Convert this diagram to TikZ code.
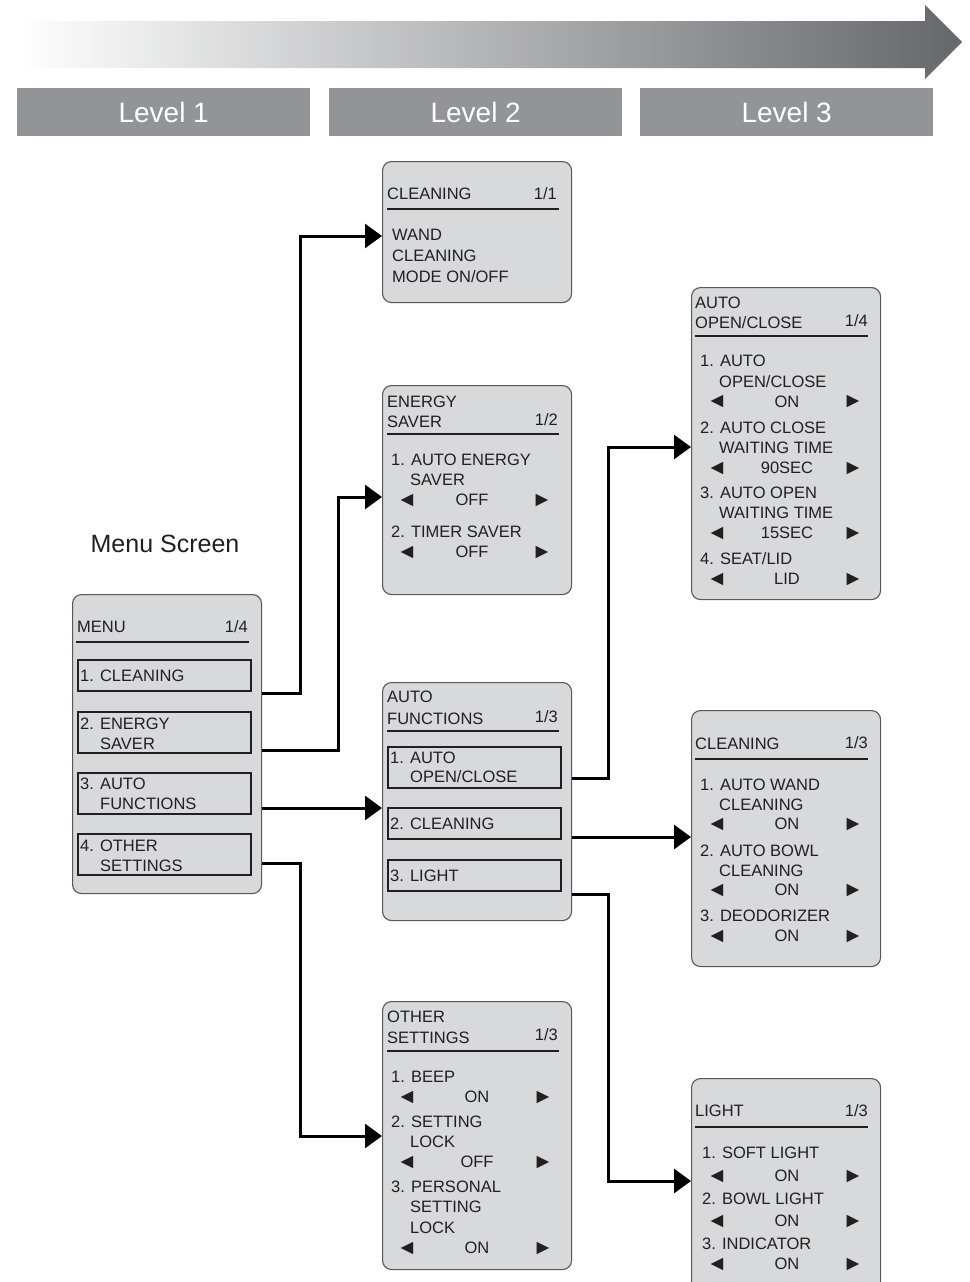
\documentclass[tikz,border=0pt]{standalone}
\usepackage{fontspec}
\setmainfont{Liberation Sans}
\usetikzlibrary{arrows.meta}
\definecolor{scr}{HTML}{D8D9DA}
\definecolor{lvl}{HTML}{939498}
\definecolor{arrdark}{HTML}{66676B}
\definecolor{ink}{HTML}{231F20}
\newcounter{tn}
% text: x, center-y, text
\newcommand\tx[3]{\stepcounter{tn}\node[tx] (t\arabic{tn}) at ({#1},{#2+6}) {#3};}
\newcommand\txr[3]{\stepcounter{tn}\node[tx,anchor=base east] (t\arabic{tn}) at ({#1},{#2+6}) {#3};}
% value row: x left sym, x value, x right sym, y, text
\newcommand\vl[5]{\stepcounter{tn}%
  \node[sym] (t\arabic{tn}l) at ({#1},{#4+1}) {◄};
  \node[tx,anchor=base] (t\arabic{tn}) at ({#2},{#4+6}) {#5};
  \node[sym] (t\arabic{tn}r) at ({#3},{#4+1}) {►};}
\newcommand\scrbox[5]{\node[screen,minimum width=#4,minimum height=#5,anchor=north west] (#1) at ({#2},{#3}) {};}
\tikzset{
  screen/.style={draw=ink!75,line width=1.1pt,fill=scr,rounded corners=9pt,inner sep=0pt},
  item/.style={draw=ink,line width=1.8pt,inner sep=0pt,anchor=north west},
  tx/.style={font=\fontsize{16.5}{18}\selectfont,text=ink,inner sep=0pt,anchor=base west},
  sym/.style={font=\fontsize{21}{22}\selectfont,text=ink,inner sep=0pt},
  rule/.style={draw=ink,line width=2pt},
  conn/.style={draw=black,line width=3pt,-{Triangle[length=17pt,width=24pt]}},
  lvlbox/.style={fill=lvl,minimum width=293pt,minimum height=48pt,inner sep=0pt,anchor=north west,
     text=white,font=\fontsize{28}{30}\selectfont},
}
\begin{document}
\begin{tikzpicture}[x=1pt,y=-1pt]
\useasboundingbox (0,0) rectangle (969,1282);
% top gradient arrow
\shade[left color=white,right color=arrdark]
  (17,21) -- (925,21) -- (925,5) -- (962,42) -- (925,79) -- (925,68) -- (17,68) -- cycle;
% level headers
\node[lvlbox] (L1) at (17,88) {Level 1};
\node[lvlbox] (L2) at (329,88) {Level 2};
\node[lvlbox] (L3) at (640,88) {Level 3};
% Menu Screen caption
\node[font=\fontsize{25}{27}\selectfont,text=ink,inner sep=0pt] (cap) at (165,544) {Menu Screen};

% ---------------- MENU ----------------
\scrbox{m}{72}{594}{189}{299}
\tx{77}{626}{MENU}\txr{248}{626}{1/4}
\draw[rule] (76,642) -- (249,642);
\node[item,minimum width=173pt,minimum height=31pt] (m1) at (77,659) {};
\node[item,minimum width=173pt,minimum height=41pt] (m2) at (77,711) {};
\node[item,minimum width=173pt,minimum height=41pt] (m3) at (77,772) {};
\node[item,minimum width=173pt,minimum height=41pt] (m4) at (77,833) {};
\tx{80}{675}{1. CLEANING}
\tx{80}{723}{2. ENERGY}\tx{100}{743}{SAVER}
\tx{80}{783}{3. AUTO}\tx{100}{803}{FUNCTIONS}
\tx{80}{845}{4. OTHER}\tx{100}{865}{SETTINGS}

% ---------------- Level 2 ----------------
\scrbox{c2}{382}{161}{189}{141}
\tx{387}{193}{CLEANING}\txr{557}{193}{1/1}
\draw[rule] (387,209) -- (559,209);
\tx{392}{234}{WAND}\tx{392}{255}{CLEANING}\tx{392}{276}{MODE ON/OFF}

\scrbox{e2}{382}{385}{189}{209}
\tx{387}{401}{ENERGY}\tx{387}{421}{SAVER}\txr{558}{419}{1/2}
\draw[rule] (387,434) -- (559,434);
\tx{391}{459}{1. AUTO ENERGY}\tx{410}{479}{SAVER}
\vl{407}{472}{542}{499}{OFF}
\tx{391}{531}{2. TIMER SAVER}
\vl{407}{472}{542}{551}{OFF}

\scrbox{a2}{382}{682}{189}{238}
\tx{387}{696}{AUTO}\tx{387}{718}{FUNCTIONS}\txr{558}{716}{1/3}
\draw[rule] (387,731) -- (559,731);
\node[item,minimum width=173pt,minimum height=41pt] (a1) at (387,746) {};
\node[item,minimum width=173pt,minimum height=31pt] (a2i) at (387,807) {};
\node[item,minimum width=173pt,minimum height=31pt] (a3) at (387,859) {};
\tx{390}{757}{1. AUTO}\tx{410}{776}{OPEN/CLOSE}
\tx{390}{823}{2. CLEANING}
\tx{390}{875}{3. LIGHT}

\scrbox{o2}{382}{1001}{189}{268}
\tx{387}{1016}{OTHER}\tx{387}{1037}{SETTINGS}\txr{558}{1034}{1/3}
\draw[rule] (387,1051) -- (559,1051);
\tx{391}{1076}{1. BEEP}
\vl{407}{477}{543}{1096}{ON}
\tx{391}{1121}{2. SETTING}\tx{410}{1141}{LOCK}
\vl{407}{477}{543}{1161}{OFF}
\tx{391}{1186}{3. PERSONAL}\tx{410}{1206}{SETTING}\tx{410}{1227}{LOCK}
\vl{407}{477}{543}{1247}{ON}

% ---------------- Level 3 ----------------
\scrbox{ao}{691}{287}{189}{312}
\tx{695}{302}{AUTO}\tx{695}{322}{OPEN/CLOSE}\txr{868}{320}{1/4}
\draw[rule] (695,336) -- (868,336);
\tx{700}{360}{1. AUTO}\tx{719}{381}{OPEN/CLOSE}
\vl{717}{787}{853}{401}{ON}
\tx{700}{427}{2. AUTO CLOSE}\tx{719}{447}{WAITING TIME}
\vl{717}{787}{853}{467}{90SEC}
\tx{700}{492}{3. AUTO OPEN}\tx{719}{512}{WAITING TIME}
\vl{717}{787}{853}{532}{15SEC}
\tx{700}{558}{4. SEAT/LID}
\vl{717}{787}{853}{578}{LID}

\scrbox{c3}{691}{710}{189}{256}
\tx{695}{743}{CLEANING}\txr{868}{742}{1/3}
\draw[rule] (695,759) -- (868,759);
\tx{700}{784}{1. AUTO WAND}\tx{719}{804}{CLEANING}
\vl{717}{787}{853}{823}{ON}
\tx{700}{850}{2. AUTO BOWL}\tx{719}{870}{CLEANING}
\vl{717}{787}{853}{889}{ON}
\tx{700}{915}{3. DEODORIZER}
\vl{717}{787}{853}{935}{ON}

\begin{scope}
\clip (0,0) rectangle (969,1282);
\scrbox{l3}{691}{1078}{189}{230}
\end{scope}
\tx{695}{1110}{LIGHT}\txr{868}{1110}{1/3}
\draw[rule] (695,1127) -- (868,1127);
\tx{702}{1152}{1. SOFT LIGHT}
\vl{717}{787}{853}{1175}{ON}
\tx{702}{1198}{2. BOWL LIGHT}
\vl{717}{787}{853}{1220}{ON}
\tx{702}{1243}{3. INDICATOR}
\vl{717}{787}{853}{1263}{ON}

% ---------------- connectors ----------------
\draw[conn] (m.east |- 0,693) -| (300,236) -- (c2.west |- 0,236);
\draw[conn] (m.east |- 0,750) -| (338,497) -- (e2.west |- 0,497);
\draw[conn] (m.east |- 0,808) -- (a2.west |- 0,808);
\draw[conn] (m.east |- 0,863) -| (300,1136) -- (o2.west |- 0,1136);
\draw[conn] (a2.east |- 0,778) -| (608,447) -- (ao.west |- 0,447);
\draw[conn] (a2.east |- 0,837) -- (c3.west |- 0,837);
\draw[conn] (a2.east |- 0,894) -| (608,1181) -- (l3.west |- 0,1181);
\end{tikzpicture}
\end{document}
